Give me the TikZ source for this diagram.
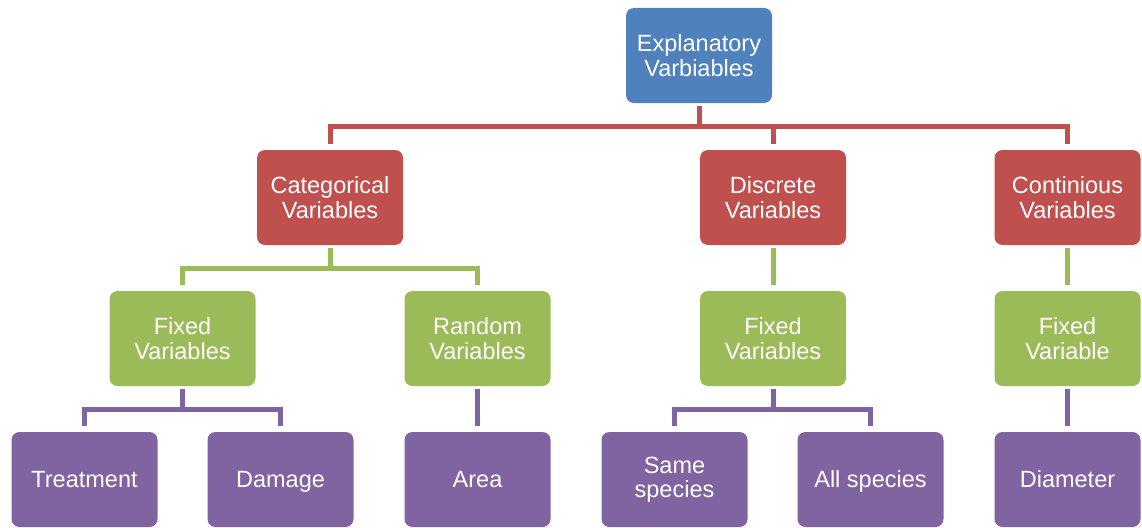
\documentclass[tikz,border=0pt]{standalone}
\usepackage{fontspec}
\setmainfont{Liberation Sans}
\definecolor{cblue}{HTML}{4F81BD}
\definecolor{cred}{HTML}{C0504D}
\definecolor{cgreen}{HTML}{9BBB59}
\definecolor{cpurple}{HTML}{8064A2}
\begin{document}
\begin{tikzpicture}[x=1pt,y=-1pt,
  box/.style={rounded corners=8pt, minimum width=146pt, minimum height=95pt, inner sep=0pt,
    text=white, align=center, font=\fontsize{23.5}{24.5}\selectfont},
  one/.style={text height=16.8pt, text depth=0pt},
  lv1/.style={box, fill=cblue},
  lv2/.style={box, fill=cred},
  lv3/.style={box, fill=cgreen},
  lv4/.style={box, fill=cpurple},
  conn/.style={line width=5pt, shorten <=3pt, shorten >=6pt},
]
\useasboundingbox (0,0) rectangle (1142,527);
\node[lv1] (top) at (699,55.5) {Explanatory\\Varbiables};
\node[lv2] (cat) at (330,197.5) {Categorical\\Variables};
\node[lv2] (dis) at (773,197.5) {Discrete\\Variables};
\node[lv2] (con) at (1067.5,197.5) {Continious\\Variables};
\node[lv3] (fx1) at (182.5,338.5) {Fixed\\Variables};
\node[lv3] (rnd) at (477.5,338.5) {Random\\Variables};
\node[lv3] (fx2) at (773,338.5) {Fixed\\Variables};
\node[lv3] (fx3) at (1067.5,338.5) {Fixed\\Variable};
\node[lv4,one] (trt) at (84.5,479.5) {Treatment};
\node[lv4,one] (dmg) at (280.5,479.5) {Damage};
\node[lv4,one] (are) at (477.5,479.5) {Area};
\node[lv4] (sam) at (674.5,479.5) {Same\\species};
\node[lv4,one] (all) at (870.5,479.5) {All species};
\node[lv4,one] (dia) at (1067.5,479.5) {Diameter};
\foreach \c in {cat,dis,con}
  \draw[conn, cred] (top.south) -- ++(0,23.5) -| (\c.north);
\foreach \c in {fx1,rnd}
  \draw[conn, cgreen] (cat.south) -- ++(0,23) -| (\c.north);
\draw[conn, cgreen] (dis.south) -- (fx2.north);
\draw[conn, cgreen] (con.south) -- (fx3.north);
\foreach \c in {trt,dmg}
  \draw[conn, cpurple] (fx1.south) -- ++(0,23) -| (\c.north);
\draw[conn, cpurple] (rnd.south) -- (are.north);
\foreach \c in {sam,all}
  \draw[conn, cpurple] (fx2.south) -- ++(0,23) -| (\c.north);
\draw[conn, cpurple] (fx3.south) -- (dia.north);
\end{tikzpicture}
\end{document}
